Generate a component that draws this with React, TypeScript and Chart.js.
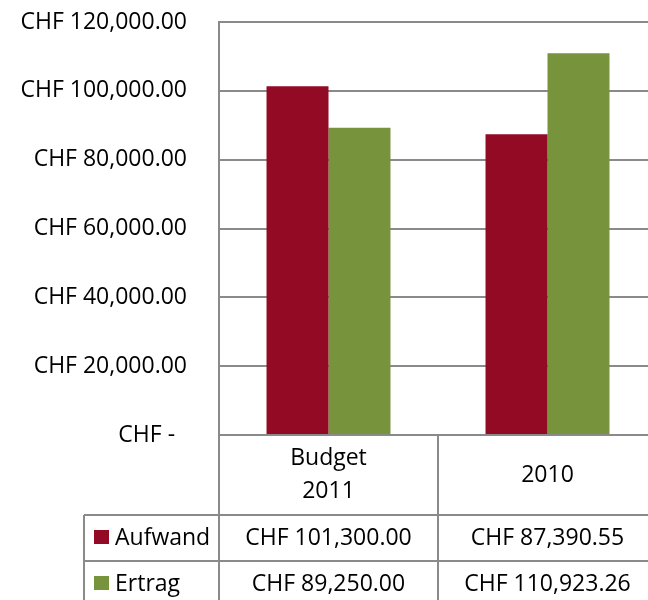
import React, { useEffect, useRef } from "react";
import { Chart, registerables } from "chart.js";

Chart.register(...registerables);

const categories: string[][] = [["Budget", "2011"], ["2010"]];
const seriesNames = ["Aufwand", "Ertrag"];
const aufwand = [101300.0, 87390.55];
const ertrag = [89250.0, 110923.26];
const yTicks = [0, 20000, 40000, 60000, 80000, 100000, 120000];

const RED = "#930A24";
const GREEN = "#77933C";
const LINE = "#8a8a8a";
const FONT_FAMILY = "'Open Sans'";
const FONT_SIZE = 23;

function fmt(v: number): string {
  const s = v.toFixed(2);
  const [i, d] = s.split(".");
  return "CHF " + i.replace(/\B(?=(\d{3})+(?!\d))/g, ",") + "." + d;
}

const tablePlugin = {
  id: "dataTable",
  afterDraw(chart: any) {
    const ctx = chart.ctx as CanvasRenderingContext2D;
    const area = chart.chartArea;
    const x = chart.scales.x;
    const n = categories.length;
    const catW = (area.right - area.left) / n;
    const headerBottom = area.bottom + 80;
    const rowH = 46;
    const boxLeft = area.left - 135;
    const tableBottom = headerBottom + rowH * seriesNames.length;
    ctx.save();
    ctx.strokeStyle = LINE;
    ctx.lineWidth = 2;
    for (let i = 0; i <= n; i++) {
      const vx = Math.round(area.left + catW * i);
      ctx.beginPath();
      ctx.moveTo(vx, area.bottom);
      ctx.lineTo(vx, tableBottom);
      ctx.stroke();
    }
    ctx.beginPath();
    ctx.moveTo(boxLeft, headerBottom);
    ctx.lineTo(boxLeft, tableBottom);
    ctx.stroke();
    for (let r = 0; r <= seriesNames.length; r++) {
      const hy = headerBottom + rowH * r;
      ctx.beginPath();
      ctx.moveTo(boxLeft, hy);
      ctx.lineTo(area.right, hy);
      ctx.stroke();
    }
    ctx.fillStyle = "#000";
    ctx.font = `${FONT_SIZE}px ${FONT_FAMILY}`;
    ctx.textAlign = "center";
    ctx.textBaseline = "middle";
    categories.forEach((lines, i) => {
      const cx = x.getPixelForValue(i);
      const cy = (area.bottom + headerBottom) / 2;
      const lh = 33;
      lines.forEach((t, j) => {
        ctx.fillText(t, cx, cy + (j - (lines.length - 1) / 2) * lh);
      });
    });
    const data = [aufwand, ertrag];
    const colors = [RED, GREEN];
    seriesNames.forEach((name, r) => {
      const cy = headerBottom + rowH * r + rowH / 2;
      ctx.fillStyle = colors[r];
      ctx.fillRect(boxLeft + 10, cy - 8, 15, 14);
      ctx.fillStyle = "#000";
      ctx.textAlign = "left";
      ctx.fillText(name, boxLeft + 31, cy);
      ctx.textAlign = "center";
      data[r].forEach((v, i) => {
        ctx.fillText(fmt(v), x.getPixelForValue(i), cy);
      });
    });
    ctx.restore();
  },
};

export default function App() {
  const ref = useRef<HTMLCanvasElement | null>(null);
  useEffect(() => {
    let chart: Chart | null = null;
    let cancelled = false;
    const make = () => {
      if (cancelled || !ref.current) return;
      chart = new Chart(ref.current, {
        type: "bar",
        data: {
          labels: categories.map((c) => c.join(" ")),
          datasets: [
            { label: seriesNames[0], data: aufwand, backgroundColor: RED, borderWidth: 0 },
            { label: seriesNames[1], data: ertrag, backgroundColor: GREEN, borderWidth: 0 },
          ],
        },
        options: {
          responsive: false,
          animation: false,
          devicePixelRatio: 1,
          layout: { padding: { top: 22, bottom: 165, left: 0, right: 3 } },
          datasets: { bar: { categoryPercentage: 0.566, barPercentage: 1 } },
          plugins: { legend: { display: false }, tooltip: { enabled: false } },
          scales: {
            x: { display: false, grid: { display: false } },
            y: {
              min: yTicks[0],
              max: yTicks[yTicks.length - 1],
              afterBuildTicks: (scale: any) => {
                scale.ticks = yTicks.map((v) => ({ value: v }));
              },
              afterFit: (scale: any) => {
                scale.width = 219;
                scale.paddingTop = 0;
                scale.paddingBottom = 0;
              },
              grid: { color: LINE, lineWidth: 2, drawTicks: false },
              border: { display: true, color: LINE, width: 2 },
              ticks: {
                padding: 32,
                color: "#000",
                font: { family: FONT_FAMILY, size: FONT_SIZE },
                callback: (v: any) => (Number(v) === 0 ? "CHF -  " : fmt(Number(v))),
              },
            },
          },
        },
        plugins: [tablePlugin],
      });
    };
    const fonts: any = (document as any).fonts;
    if (fonts && fonts.load) {
      fonts.load(`${FONT_SIZE}px ${FONT_FAMILY}`).then(make, make);
    } else {
      make();
    }
    return () => {
      cancelled = true;
      if (chart) chart.destroy();
    };
  }, []);
  return (
    <div
      style={{
        position: "fixed",
        left: 0,
        top: 0,
        width: 648,
        height: 600,
        overflow: "hidden",
        background: "#fff",
      }}
    >
      <canvas ref={ref} width={660} height={600} style={{ display: "block" }} />
    </div>
  );
}
